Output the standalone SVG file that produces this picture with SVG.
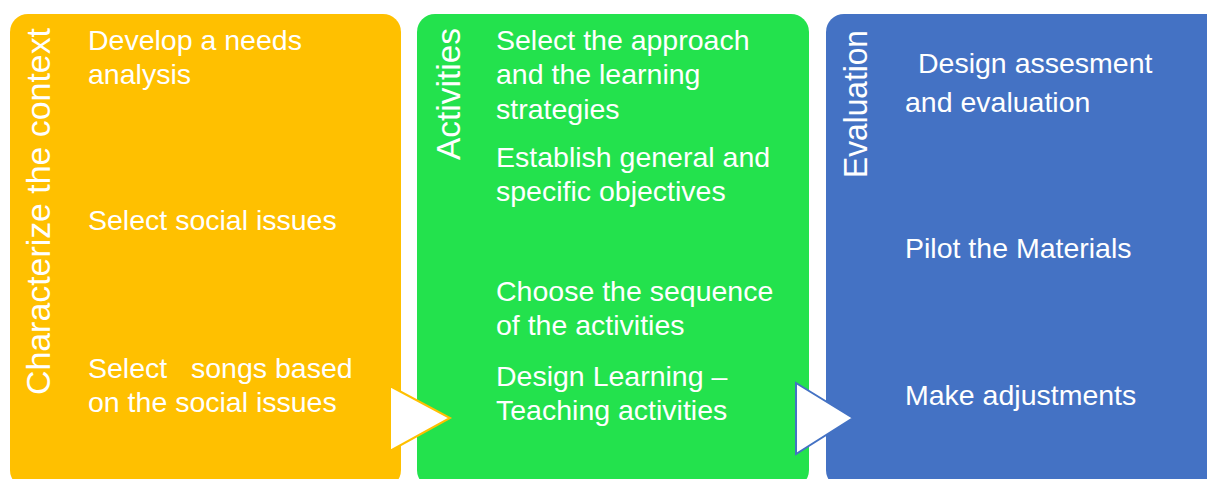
<svg xmlns="http://www.w3.org/2000/svg" width="1207" height="479" viewBox="0 0 1207 479">
<style>
.t{font-family:"Liberation Sans",Arial,sans-serif;font-size:28.5px;fill:#fff}
.v{font-family:"Liberation Sans",Arial,sans-serif;font-size:33.5px;fill:#fff}
</style>
<rect width="1207" height="479" fill="#fff"/>
<g id="node-context">
<rect x="10" y="14" width="391" height="474" rx="18" fill="#FFC000"/>
<text class="v" transform="translate(50,395) rotate(-90)" textLength="367" lengthAdjust="spacingAndGlyphs">Characterize the context</text>
<text class="t" x="88" y="50">Develop a needs</text>
<text class="t" x="88" y="84">analysis</text>
<text class="t" x="88" y="230">Select social issues</text>
<text class="t" x="88" y="378" xml:space="preserve">Select   songs based</text>
<text class="t" x="88" y="412">on the social issues</text>
</g>
<g id="node-activities">
<rect x="417" y="14" width="392" height="474" rx="18" fill="#23E24D"/>
<text class="v" transform="translate(460,160) rotate(-90)" textLength="132" lengthAdjust="spacingAndGlyphs">Activities</text>
<text class="t" x="496" y="50">Select the approach</text>
<text class="t" x="496" y="84">and the learning</text>
<text class="t" x="496" y="119">strategies</text>
<text class="t" x="496" y="167">Establish general and</text>
<text class="t" x="496" y="201">specific objectives</text>
<text class="t" x="496" y="301">Choose the sequence</text>
<text class="t" x="496" y="335">of the activities</text>
<text class="t" x="496" y="386">Design Learning –</text>
<text class="t" x="496" y="420">Teaching activities</text>
</g>
<g id="node-evaluation">
<rect x="826" y="14" width="400" height="474" rx="18" fill="#4472C4"/>
<text class="v" transform="translate(867,178) rotate(-90)" textLength="148" lengthAdjust="spacingAndGlyphs">Evaluation</text>
<text class="t" x="918" y="73">Design assesment</text>
<text class="t" x="905" y="112">and evaluation</text>
<text class="t" x="905" y="258">Pilot the Materials</text>
<text class="t" x="905" y="405">Make adjustments</text>
</g>
<g id="connectors">
<polygon points="390,386 450,418 390,451" fill="#fff" stroke="#FFC000" stroke-width="2"/>
<polygon points="796,383 853,418 796,454" fill="#fff" stroke="#4472C4" stroke-width="2"/>
</g>
</svg>
